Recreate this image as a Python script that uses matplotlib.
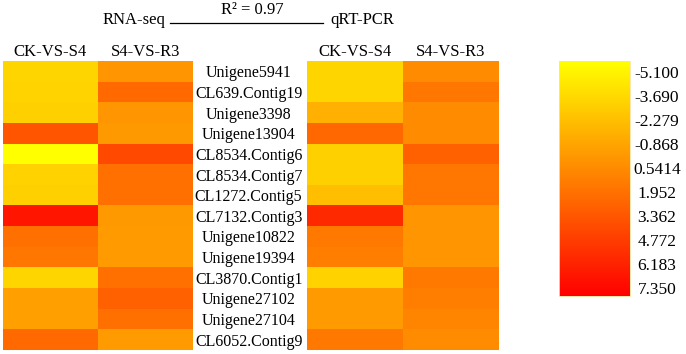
import numpy as np
import matplotlib
matplotlib.use('Agg')
import matplotlib.pyplot as plt
from matplotlib.colors import LinearSegmentedColormap
from matplotlib.lines import Line2D

plt.rcParams['font.family'] = ['Liberation Serif', 'DejaVu Serif']

# datos
genes = ['Unigene5941', 'CL639.Contig19', 'Unigene3398', 'Unigene13904',
         'CL8534.Contig6', 'CL8534.Contig7', 'CL1272.Contig5', 'CL7132.Contig3',
         'Unigene10822', 'Unigene19394', 'CL3870.Contig1', 'Unigene27102',
         'Unigene27104', 'CL6052.Contig9']
columnas = ['CK-VS-S4', 'S4-VS-R3']

rna_ck_s4 = [-3.05, -3.0, -2.8, 3.2, -5.1, -2.9, -2.8, 6.3, 1.9, 1.6, -3.05, -0.45, -0.45, 2.2]
rna_s4_r3 = [0.07, 2.2, 0.07, -0.1, 3.75, 1.9, 1.9, -0.1, -0.2, -0.2, 1.9, 2.65, 1.9, -0.2]
qpcr_ck_s4 = [-3.05, -3.05, -1.25, 2.25, -2.8, -2.8, -1.95, 5.3, 1.5, 1.2, -2.9, -0.2, -0.2, 1.5]
qpcr_s4_r3 = [0.5, 1.6, 0.5, 0.5, 2.65, 1.6, 1.6, 0.07, 0.07, 0.07, 1.5, 1.2, 0.85, 0.5]

vmin, vmax = -5.1, 7.35
etiquetas_barra = ['-5.100', '-3.690', '-2.279', '-0.868', '0.5414',
                   '1.952', '3.362', '4.772', '6.183', '7.350']

W, H = 686, 354
fig = plt.figure(figsize=(W / 100, H / 100), dpi=100)
cmap = LinearSegmentedColormap.from_list('amarillo_rojo', ['#FFFF00', '#FF0000'])


def caja(x0, y0, x1, y1):
    # convertir pixeles a fracciones de figura
    return [x0 / W, 1 - y1 / H, (x1 - x0) / W, (y1 - y0) / H]


def heatmap(ax, datos):
    m = np.column_stack(datos)
    im = ax.imshow(m, cmap=cmap, vmin=vmin, vmax=vmax, aspect='auto',
                   interpolation='nearest')
    ax.set_xticks(range(len(columnas)))
    ax.set_xticklabels(columnas, fontsize=12)
    ax.xaxis.tick_top()
    ax.tick_params(axis='x', length=0, pad=1)
    ax.set_yticks([])
    for s in ax.spines.values():
        s.set_visible(False)
    return im


ax1 = fig.add_axes(caja(3, 61, 193, 350))
im = heatmap(ax1, [rna_ck_s4, rna_s4_r3])

ax2 = fig.add_axes(caja(307, 61, 499, 350))
heatmap(ax2, [qpcr_ck_s4, qpcr_s4_r3])
ax2.set_yticks(range(len(genes)))
ax2.set_yticklabels(genes, fontsize=11.5, ha='center')
ax2.tick_params(axis='y', length=0, pad=42)

# barra de color
cax = fig.add_axes(caja(559, 61, 630, 296))
cb = fig.colorbar(im, cax=cax)
cb.outline.set_edgecolor('#ffe0a0')
cb.outline.set_linewidth(0.6)
cax.invert_yaxis()
pos = vmin + np.linspace(0.047, 0.966, len(etiquetas_barra)) * (vmax - vmin)
cax.set_yticks(pos)
cax.set_yticklabels(etiquetas_barra, fontsize=12.5, ha='center')
cax.tick_params(axis='y', length=0, pad=19.5)

# titulo
fig.text(165 / W, 1 - 20 / H, 'RNA-seq', fontsize=12, ha='right', va='center')
fig.text(252 / W, 1 - 10 / H, 'R² = 0.97', fontsize=12, ha='center', va='center')
fig.text(330 / W, 1 - 20 / H, 'qRT-PCR', fontsize=12, ha='left', va='center')
fig.add_artist(Line2D([170 / W, 323 / W], [1 - 23 / H, 1 - 23 / H],
                      color='black', linewidth=0.9, transform=fig.transFigure))

fig.savefig('out.png', dpi=100)
